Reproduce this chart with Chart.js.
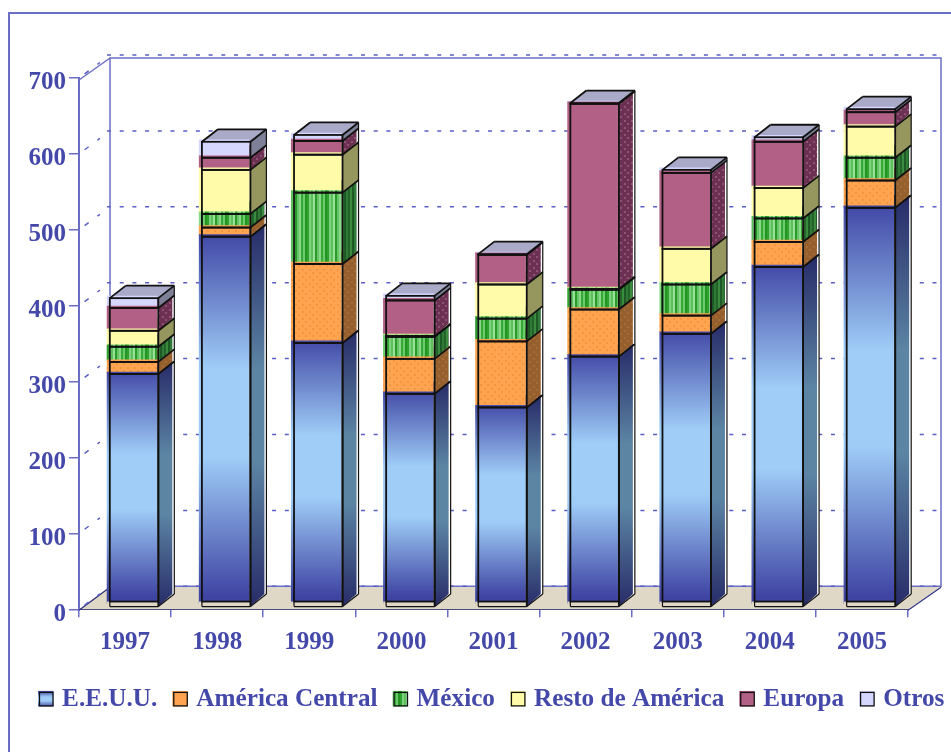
<!DOCTYPE html>
<html lang="es">
<head>
<meta charset="utf-8">
<title>Exportaciones por destino</title>
<script src="https://cdn.jsdelivr.net/npm/chart.js@4/dist/chart.umd.min.js"></script>
<style>
  html, body { margin: 0; padding: 0; background: #fff; }
  canvas { display: block; }
</style>
</head>
<body>
<canvas id="chart1" width="951" height="752"></canvas>
<script>
const years = ['1997', '1998', '1999', '2000', '2001', '2002', '2003', '2004', '2005'];
const seriesNames = ['E.E.U.U.', 'América Central', 'México', 'Resto de América', 'Europa', 'Otros'];

const eeuu = [306, 487, 347, 280, 262, 329, 359, 447, 525];
const americaCentral = [16, 12, 104, 46, 87, 62, 24, 33, 36];
const mexico = [20, 18, 94, 29, 30, 26, 41, 31, 30];
const restoAmerica = [21, 58, 50, 1, 45, 1, 47, 40, 41];
const europa = [30, 16, 18, 47, 39, 244, 100, 61, 19];
const otros = [13, 21, 8, 6, 1, 1, 4, 6, 4];

const AZUL = '#4448a8';
const LINEA = '#6a6ec4';
const SUELO = '#e0d8c6';
const FUENTE = '"Liberation Serif", "Times New Roman", serif';

// desplazamientos del falso 3D
const pared = { x: 31, y: -23 };
const caja = { x: 16, y: -12.5 };
const lineaX = -15.25, lineaW = 48.5, lineaY = -3;
const rellenoX = 7, rellenoY = -5;

function patron(w, h, dibujar) {
  const c = document.createElement('canvas');
  c.width = w;
  c.height = h;
  dibujar(c.getContext('2d'));
  return c.getContext('2d').createPattern(c, 'repeat');
}

function puntos(base, punto) {
  return patron(7, 7, g => {
    g.fillStyle = base;
    g.fillRect(0, 0, 7, 7);
    g.fillStyle = punto;
    g.fillRect(1, 1, 2, 2);
    g.fillRect(4, 4, 2, 2);
  });
}

function rayas(colores) {
  return patron(colores.length * 2, 4, g => {
    colores.forEach((col, i) => {
      g.fillStyle = col;
      g.fillRect(i * 2, 0, 2, 4);
    });
  });
}

const frenteVerde = rayas(['#2ea32e', '#7fd07f', '#5cc05c', '#9adf9a', '#2a9a2a', '#65c665', '#8ad88a', '#35a835', '#6ccb6c', '#249424']);
const ladoVerde = rayas(['#1f5a26', '#2f7a36', '#24642b', '#3a8a40']);

const estilos = [
  { lado: null, tapa: '#2a2e70', leyenda: null },
  { lado: puntos('#96602e', '#a56c38'), tapa: '#c07a30', frente: puntos('#ffa552', '#f4963f'), leyenda: '#ffa552', corto: true },
  { lado: ladoVerde, tapa: '#2f7a36', frente: frenteVerde, leyenda: frenteVerde, corto: true },
  { lado: '#96965f', tapa: '#cfca88', frente: '#fffba8', leyenda: '#fffba8' },
  { lado: puntos('#6b3052', '#8c5274'), tapa: '#6b3052', frente: '#b26086', leyenda: '#b26086', corto: true },
  { lado: '#7e8098', tapa: '#a8aac8', frente: '#d5d7ff', leyenda: '#d5d7ff' }
];

function degradado(ctx, arriba, abajo, oscuro, claro) {
  const g = ctx.createLinearGradient(0, arriba, 0, abajo);
  g.addColorStop(0, oscuro);
  g.addColorStop(0.38, claro);
  g.addColorStop(0.62, claro);
  g.addColorStop(1, oscuro);
  return g;
}

function poligono(ctx, pts, relleno) {
  ctx.beginPath();
  pts.forEach((p, i) => i ? ctx.lineTo(p[0], p[1]) : ctx.moveTo(p[0], p[1]));
  ctx.closePath();
  ctx.fillStyle = relleno;
  ctx.fill();
}

function linea(ctx, x1, y1, x2, y2) {
  ctx.beginPath();
  ctx.moveTo(x1, y1);
  ctx.lineTo(x2, y2);
  ctx.stroke();
}

const fondo3d = {
  id: 'fondo3d',
  beforeDraw(chart) {
    const ctx = chart.ctx;
    ctx.save();
    ctx.strokeStyle = LINEA;
    ctx.lineWidth = 2;
    ctx.beginPath();
    ctx.moveTo(951, 13);
    ctx.lineTo(9, 13);
    ctx.lineTo(9, 752);
    ctx.stroke();
    ctx.restore();
  },
  beforeDatasetsDraw(chart) {
    const ctx = chart.ctx;
    const { left, right, top, bottom } = chart.chartArea;
    const y = chart.scales.y;
    ctx.save();

    // suelo
    poligono(ctx, [[left, bottom], [left + pared.x, bottom + pared.y], [right + pared.x + 2, bottom + pared.y], [right, bottom]], SUELO);

    // pared del fondo
    ctx.strokeStyle = LINEA;
    ctx.lineWidth = 1.5;
    ctx.beginPath();
    ctx.moveTo(left + pared.x, bottom + pared.y);
    ctx.lineTo(left + pared.x, top + pared.y + 3);
    ctx.lineTo(right + pared.x + 2, top + pared.y + 3);
    ctx.lineTo(right + pared.x + 2, bottom + pared.y);
    ctx.lineTo(left + pared.x, bottom + pared.y);
    ctx.stroke();
    linea(ctx, left, top + 2, left + pared.x, top + pared.y + 3);
    ctx.strokeStyle = '#2c3080';
    ctx.lineWidth = 1.2;
    linea(ctx, left, bottom + 1, left + pared.x, bottom + pared.y + 1);
    linea(ctx, right, bottom + 1, right + pared.x + 2, bottom + pared.y + 1);

    // rejilla punteada
    ctx.strokeStyle = '#5a5ec4';
    ctx.lineWidth = 1.5;
    y.ticks.forEach(t => {
      const py = y.getPixelForValue(t.value);
      ctx.setLineDash([4, 8.7]);
      linea(ctx, left + pared.x - 3, py - 23, right + pared.x + 2, py - 23);
      ctx.setLineDash([0, 7, 5, 11, 3, 100]);
      linea(ctx, left, py, left + pared.x, py - 23);
    });
    ctx.setLineDash([]);

    // laterales y tapas de cada columna
    years.forEach((_, k) => {
      const tope = chart.getDatasetMeta(estilos.length - 1).data[k];
      const base = chart.getDatasetMeta(0).data[k];
      const der = base.x + lineaX + lineaW;
      poligono(ctx, [
        [der, base.base + lineaY + 1], [der + caja.x, base.base + lineaY + 1 + caja.y],
        [der + caja.x, tope.y + lineaY + caja.y], [der, tope.y + lineaY]
      ], '#fff');
      estilos.forEach((est, i) => {
        const el = chart.getDatasetMeta(i).data[k];
        const a = el.y + lineaY, b = el.base + lineaY + (i === 0 ? 1 : 0);
        const izq = el.x + lineaX;
        const dx = est.corto || i === 0 ? caja.x - 2 : caja.x;
        poligono(ctx, [[izq, a], [der, a], [der + caja.x, a + caja.y], [izq + caja.x, a + caja.y]], est.tapa);
        const relleno = i === 0 ? degradado(ctx, a - 12, b, '#272b68', '#5c85a4') : est.lado;
        poligono(ctx, [[der, b], [der + dx, b + caja.y], [der + dx, a + caja.y], [der, a]], relleno);
      });
    });
    ctx.restore();
  },
  beforeDatasetDraw(chart) {
    chart.ctx.save();
    chart.ctx.translate(rellenoX, rellenoY);
  },
  afterDatasetDraw(chart) {
    chart.ctx.restore();
  },
  afterDatasetsDraw(chart) {
    const ctx = chart.ctx;
    ctx.save();
    years.forEach((_, k) => {
      const tope = chart.getDatasetMeta(estilos.length - 1).data[k];
      const base = chart.getDatasetMeta(0).data[k];
      const izq = base.x + lineaX;
      const der = izq + lineaW;
      const suelo = base.base + lineaY + 1;

      // pie de la columna
      ctx.fillStyle = SUELO;
      ctx.fillRect(izq - 3, suelo - 5, lineaW + 3, 5);

      ctx.strokeStyle = '#111';
      ctx.lineWidth = 1.2;
      linea(ctx, izq, suelo, der, suelo);
      linea(ctx, der, suelo, der + caja.x, suelo + caja.y);
      linea(ctx, der + caja.x, suelo + caja.y, der + caja.x, tope.y + lineaY + caja.y);
      linea(ctx, izq, suelo - 5, izq, suelo);

      ctx.lineWidth = 1.8;
      estilos.forEach((est, i) => {
        const el = chart.getDatasetMeta(i).data[k];
        const a = el.y + lineaY, b = el.base + lineaY;
        if (i === 0) {
          ctx.strokeRect(izq, a, lineaW, suelo - a - 5);
          linea(ctx, der, a, der, suelo);
        } else {
          ctx.strokeRect(izq, a, lineaW, b - a);
        }
        linea(ctx, der, a, der + caja.x, a + caja.y);
      });

      const a = tope.y + lineaY;
      linea(ctx, izq, a, izq + caja.x, a + caja.y);
      linea(ctx, izq + caja.x, a + caja.y, der + caja.x, a + caja.y);
    });
    ctx.restore();
  },
  afterDraw(chart) {
    // cuadros de la leyenda
    const ctx = chart.ctx;
    const y = chart.legend.legendHitBoxes;
    ctx.save();
    y.forEach((h, i) => {
      const est = estilos[i];
      const cy = h.top + h.height / 2;
      const arriba = cy - 9, x = h.left;
      ctx.fillStyle = i === 0 ? degradado(ctx, arriba, arriba + 16, '#3f44a3', '#9fcdf7') : est.leyenda;
      ctx.fillRect(x, arriba, 15.5, 15.5);
      ctx.strokeStyle = '#111';
      ctx.lineWidth = 1.3;
      ctx.strokeRect(x + 1.5, arriba + 1.5, 13.5, 13.5);
    });
    ctx.restore();
  }
};

const datosSerie = [eeuu, americaCentral, mexico, restoAmerica, europa, otros];

const datasets = seriesNames.map((name, i) => ({
  label: name,
  data: datosSerie[i],
  stack: 'total',
  barThickness: 50,
  borderWidth: 0,
  backgroundColor: i === 0
    ? function (c) {
        if (!c.parsed) return '#9fcdf7';
        const y = c.chart.scales.y;
        return degradado(c.chart.ctx, y.getPixelForValue(c.parsed.y) + rellenoY, y.getPixelForValue(0) + rellenoY - 3, '#3f44a3', '#9fcdf7');
      }
    : estilos[i].frente
}));

new Chart(document.getElementById('chart1'), {
  type: 'bar',
  data: { labels: years, datasets: datasets },
  plugins: [fondo3d],
  options: {
    responsive: false,
    animation: false,
    // padding derecho negativo para que la leyenda quepa en una sola fila
    layout: { padding: { left: 23, right: -20, top: 78, bottom: 29.5 } },
    plugins: {
      tooltip: { enabled: false },
      legend: {
        position: 'bottom',
        align: 'start',
        labels: {
          boxWidth: 11.5,
          boxHeight: 11,
          padding: 15,
          color: AZUL,
          font: { family: FUENTE, size: 25.2, weight: 'bold' },
          generateLabels: chart => chart.data.datasets.map((d, i) => ({
            text: d.label,
            fillStyle: 'rgba(0,0,0,0)',
            strokeStyle: 'rgba(0,0,0,0)',
            lineWidth: 0,
            fontColor: AZUL,
            datasetIndex: i
          }))
        }
      }
    },
    scales: {
      x: {
        stacked: true,
        afterFit: s => { s.height = 63; },
        border: { color: '#1a1c60', width: 2 },
        grid: { drawOnChartArea: false, color: LINEA, tickLength: 8, lineWidth: 1.5 },
        ticks: {
          color: AZUL,
          padding: 10,
          maxRotation: 0,
          autoSkip: false,
          font: { family: FUENTE, size: 25, weight: 'bold' }
        }
      },
      y: {
        stacked: true,
        min: 0,
        max: 700,
        afterFit: s => { s.width = 56; },
        border: { color: LINEA, width: 2 },
        grid: { drawOnChartArea: false, color: LINEA, tickLength: 10, lineWidth: 1.5 },
        ticks: {
          stepSize: 100,
          color: AZUL,
          padding: 3,
          labelOffset: 5,
          font: { family: FUENTE, size: 25, weight: 'bold' }
        }
      },
      margenDerecho: {
        position: 'right',
        afterFit: s => { s.width = 63; },
        border: { display: false },
        grid: { display: false },
        ticks: { display: false }
      }
    }
  }
});
</script>
</body>
</html>
